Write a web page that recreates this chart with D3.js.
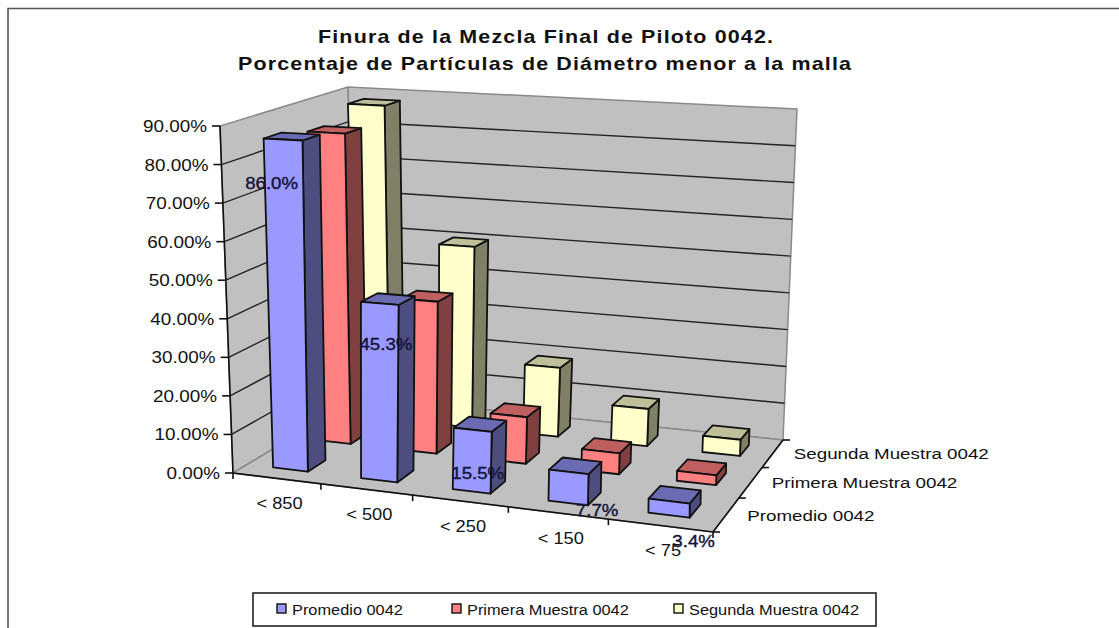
<!DOCTYPE html>
<html><head><meta charset="utf-8">
<script src="https://cdn.jsdelivr.net/npm/d3@7"></script>
<style>html,body{margin:0;padding:0;background:#fff;overflow:hidden}svg{display:block}
text{font-family:"Liberation Sans",Arial,sans-serif;fill:#111}</style></head>
<body><svg id="c" width="1119" height="628"></svg>
<script>
const categories = ["< 850","< 500","< 250","< 150","< 75"];
const seriesNames = ["Promedio 0042","Primera Muestra 0042","Segunda Muestra 0042"];
const promedio = [86.0,45.3,15.5,7.7,3.4];
const primera = [84.0,40.5,12.2,5.4,2.5];
const segunda = [88.0,50.1,18.8,10.0,4.3];
const ticks = [0,10,20,30,40,50,60,70,80,90];
const fills = ["#9999ff","#ff8080","#ffffcc"];
const sides = ["#4d4d80","#804040","#808066"];
const tops = ["#6b6bb3","#bf5f5f","#bfbf99"];
const seriesValues = [promedio,primera,segunda];

// layout constants (not data)
const floorQuad = [[233,473],[713,532],[783,440],[360,397]];
const topQuad = [[220,126],[712,150],[797,109],[348,87]];
const labelNudgeX = [8,25,24,48,45];
const labelNudgeY = [51,48,51,46,48];

function homography(q){
  const [[x0,y0],[x1,y1],[x2,y2],[x3,y3]]=q;
  const dx1=x1-x2,dx2=x3-x2,sx=x0-x1+x2-x3,dy1=y1-y2,dy2=y3-y2,sy=y0-y1+y2-y3;
  const d=dx1*dy2-dx2*dy1, g=(sx*dy2-dx2*sy)/d, h=(dx1*sy-sx*dy1)/d;
  const a=x1-x0+g*x1,b=x3-x0+h*x3,e=y1-y0+g*y1,f=y3-y0+h*y3;
  return (u,v)=>{const w=g*u+h*v+1;return [(a*u+b*v+x0)/w,(e*u+f*v+y0)/w];};
}
const F=homography(floorQuad),T=homography(topQuad);
const hS=d3.scaleLinear().domain([0,90]).range([0,1]);
const P=(u,v,val)=>{const a=F(u,v),b=T(u,v),t=hS(val);return [a[0]+(b[0]-a[0])*t,a[1]+(b[1]-a[1])*t];};
const uS=d3.scaleBand().domain(categories).range([0,1]).paddingInner(0.6).paddingOuter(0.3);
const vS=d3.scaleBand().domain(seriesNames).range([0,1]).paddingInner(0.6).paddingOuter(0.3);
const uOuter=d3.scaleBand().domain(categories).range([0,1]);
const vOuter=d3.scaleBand().domain(seriesNames).range([0,1]);

const svg=d3.select("#c");
const line=d3.line();
const poly=pts=>line(pts)+"Z";

function label(g,str,x,y,size,anchor,stretch,weight){
  const t=g.append("text").attr("x",x).attr("y",y).attr("font-size",size).attr("text-anchor",anchor)
    .attr("font-weight",weight||"normal").text(str);
  const w=t.node().getComputedTextLength();
  t.attr("textLength",w*stretch).attr("lengthAdjust","spacingAndGlyphs");
  return t;
}
function spaced(g,str,x,y,size,len,sx){
  return g.append("g").attr("transform",`translate(${x},${y}) scale(${sx},1)`)
    .append("text").attr("font-size",size).attr("text-anchor","middle")
    .attr("font-weight","bold").attr("textLength",len/sx).attr("lengthAdjust","spacing").text(str);
}

// outer frame
svg.append("path").attr("d","M8,628V8.5H1119").attr("fill","none").attr("stroke","#555").attr("stroke-width",1.6);

// title
const tg=svg.append("g");
spaced(tg,"Finura de la Mezcla Final de Piloto 0042.",545.5,43,18.5,455,1.16);
spaced(tg,"Porcentaje de Partículas de Diámetro menor a la malla",544.5,70,18.5,613,1.16);

// walls and floor
const wallStroke="#8a8a8a";
const grid=svg.append("g");
grid.append("path").attr("d",poly([P(0,0,0),P(0,1,0),P(0,1,90),P(0,0,90)])).attr("fill","#c0c0c0").attr("stroke",wallStroke).attr("stroke-width",1.5);
grid.append("path").attr("d",poly([P(0,1,0),P(1,1,0),P(1,1,90),P(0,1,90)])).attr("fill","#c0c0c0").attr("stroke",wallStroke).attr("stroke-width",1.5);
grid.append("path").attr("d",poly([P(0,0,0),P(1,0,0),P(1,1,0),P(0,1,0)])).attr("fill","#c0c0c0").attr("stroke",wallStroke).attr("stroke-width",1.5);
grid.selectAll("path.g").data(ticks.filter(t=>t>0&&t<90)).join("path").attr("class","g")
  .attr("d",t=>line([P(0,0,t),P(0,1,t),P(1,1,t)])).attr("fill","none").attr("stroke","#222").attr("stroke-width",1.4);

// axes
const ax=svg.append("g").attr("fill","none").attr("stroke","#111").attr("stroke-width",1.6);
ax.append("path").attr("d",line([P(0,0,90),P(0,0,0),P(1,0,0),P(1,1,0)]));
ax.selectAll("path.yt").data(ticks).join("path").attr("class","yt").attr("d",t=>{const p=P(0,0,t);return line([[p[0]-8,p[1]],p]);});
const edges=[0,...categories.map(c=>uOuter(c)+uOuter.bandwidth())];
ax.selectAll("path.xt").data(edges).join("path").attr("class","xt").attr("d",u=>{const p=P(u,0,0);return line([p,[p[0],p[1]+6]]);});
const dEdges=[0,...seriesNames.map(s=>vOuter(s)+vOuter.bandwidth())];
ax.selectAll("path.zt").data(dEdges).join("path").attr("class","zt").attr("d",v=>{const p=P(1,v,0);return line([p,[p[0]+7,p[1]]]);});

// tick labels
const tl=svg.append("g");
ticks.forEach(t=>{const p=P(0,0,t);label(tl,d3.format(".2f")(t)+"%",p[0]-13,p[1]+6,16,"end",1.18);});
categories.forEach((c,i)=>{const p=P(uOuter(c)+uOuter.bandwidth()/2,0,0);
  label(tl,c,p[0]+3,p[1]+31,16,"middle",1.14);});
seriesNames.forEach((s,i)=>{const p=P(1,vOuter(s)+vOuter.bandwidth()/2,0);
  label(tl,s,p[0]+21,p[1]+6,15.5,"start",1.21);});

// bars, back to front
const bars=svg.append("g");
[2,1,0].forEach(si=>{
  categories.forEach((c,ci)=>{
    const val=seriesValues[si][ci],s=seriesNames[si];
    const u0=uS(c),u1=u0+uS.bandwidth(),v0=vS(s),v1=v0+vS.bandwidth();
    const g=bars.append("g").attr("stroke","#111").attr("stroke-width",1.8).attr("stroke-linejoin","round");
    g.append("path").attr("fill",sides[si]).attr("d",poly([P(u1,v0,0),P(u1,v1,0),P(u1,v1,val),P(u1,v0,val)]));
    g.append("path").attr("fill",tops[si]).attr("d",poly([P(u0,v0,val),P(u1,v0,val),P(u1,v1,val),P(u0,v1,val)]));
    g.append("path").attr("fill",fills[si]).attr("d",poly([P(u0,v0,0),P(u1,v0,0),P(u1,v0,val),P(u0,v0,val)]));
  });
});

// data labels
const dl=svg.append("g");
promedio.forEach((val,i)=>{const p=P(uS(categories[i]),vS(seriesNames[0]),val);
  label(dl,d3.format(".1f")(val)+"%",p[0]+labelNudgeX[i],p[1]+labelNudgeY[i],16.5,"middle",1.13)
    .style("fill","#14143a").style("stroke","#14143a").style("stroke-width",0.4);});

// legend
const lg=svg.append("g");
lg.append("rect").attr("x",253).attr("y",593).attr("width",623).attr("height",33).attr("fill","#fff").attr("stroke","#222").attr("stroke-width",1.6);
const lx=[277,452,674];
seriesNames.forEach((s,i)=>{
  lg.append("rect").attr("x",lx[i]).attr("y",604).attr("width",9).attr("height",9).attr("fill",fills[i]).attr("stroke","#111").attr("stroke-width",1.4);
  label(lg,s,lx[i]+15,615,15,"start",1.09);
});
</script></body></html>
